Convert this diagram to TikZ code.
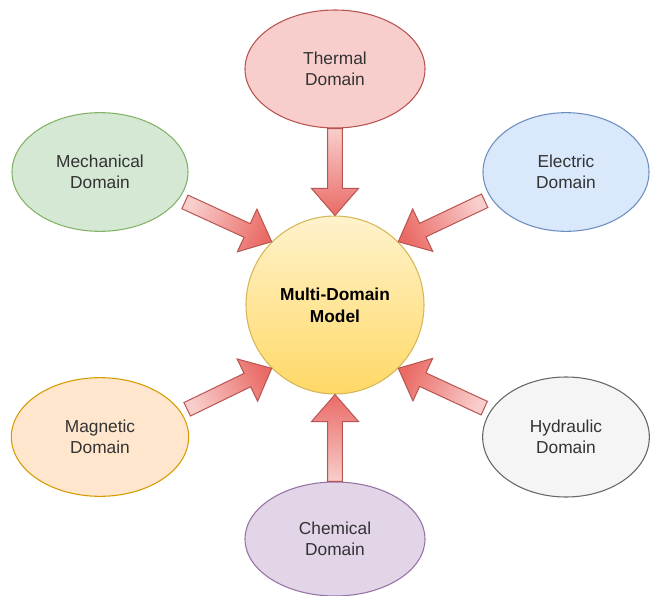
\documentclass[tikz,border=0pt]{standalone}
\usepackage{fontspec}
\setmainfont{Liberation Sans}
\usetikzlibrary{calc,shapes.geometric}

\definecolor{labelgray}{HTML}{333333}
\definecolor{thermfill}{HTML}{F8CECC}
\definecolor{thermline}{HTML}{B85450}
\definecolor{mechfill}{HTML}{D5E8D4}
\definecolor{mechline}{HTML}{82B366}
\definecolor{elecfill}{HTML}{DAE8FC}
\definecolor{elecline}{HTML}{6C8EBF}
\definecolor{magfill}{HTML}{FFE6CC}
\definecolor{magline}{HTML}{D79B00}
\definecolor{hydfill}{HTML}{F5F5F5}
\definecolor{hydline}{HTML}{666666}
\definecolor{chemfill}{HTML}{E1D5E7}
\definecolor{chemline}{HTML}{9673A6}
\definecolor{hubtop}{HTML}{FFF2CC}
\definecolor{hubbottom}{HTML}{FFD966}
\definecolor{hubline}{HTML}{D6B656}
\definecolor{flowlight}{HTML}{F8CECC}
\definecolor{flowdark}{HTML}{EA6B66}
\definecolor{flowline}{HTML}{B85450}

% block arrow from #1 to #2, tail held back by #3
\newcommand{\blockarrow}[3]{%
  \coordinate (ba-b) at (#2);
  \coordinate (ba-a) at ($(#1)!#3!(ba-b)$);
  \coordinate (ba-h) at ($(ba-b)!20.25pt!(ba-a)$);
  \pgfmathanglebetweenpoints{\pgfpointanchor{ba-a}{center}}{\pgfpointanchor{ba-b}{center}}%
  \pgfmathsetmacro{\shadeangle}{\pgfmathresult+90}%
  \draw[flow, shading angle=\shadeangle]
    ($(ba-a)!5.6pt!90:(ba-b)$) -- ($(ba-h)!5.6pt!-90:(ba-a)$)
    -- ($(ba-h)!17.6pt!-90:(ba-a)$) -- (ba-b)
    -- ($(ba-h)!17.6pt!90:(ba-a)$) -- ($(ba-h)!5.6pt!90:(ba-a)$)
    -- ($(ba-a)!5.6pt!-90:(ba-b)$) -- cycle;
}

\begin{document}
\begin{tikzpicture}[x=0.75pt, y=-0.75pt,
  domainbox/.style={ellipse, draw, line width=0.8pt, inner sep=0pt, align=center,
    text=labelgray, font=\fontsize{13}{16}\selectfont},
  hub/.style={circle, draw=hubline, line width=0.8pt, top color=hubtop, bottom color=hubbottom,
    minimum size=133.5pt, inner sep=0pt, align=center, font=\bfseries\fontsize{13}{16.5}\selectfont},
  flow/.style={draw=flowline, line width=0.75pt, line join=miter, top color=flowlight, bottom color=flowdark}]
  \useasboundingbox (0,0) rectangle (651,596);

  % Central model
  \node[hub] (model) at (335,305) {Multi-Domain\\Model};

  % Domains around it
  \node[domainbox, fill=thermfill, draw=thermline, minimum width=135pt, minimum height=88.5pt] (therm) at (335,69) {Thermal\\Domain};
  \node[domainbox, fill=mechfill, draw=mechline, minimum width=132pt, minimum height=89pt] (mech) at (100,172) {Mechanical\\Domain};
  \node[domainbox, fill=elecfill, draw=elecline, minimum width=124.5pt, minimum height=89pt] (elec) at (566,172) {Electric\\Domain};
  \node[domainbox, fill=magfill, draw=magline, minimum width=133pt, minimum height=89pt] (mag) at (100,437) {Magnetic\\Domain};
  \node[domainbox, fill=hydfill, draw=hydline, minimum width=125pt, minimum height=90pt] (hyd) at (566,437) {Hydraulic\\Domain};
  \node[domainbox, fill=chemfill, draw=chemline, minimum width=135pt, minimum height=85.5pt] (chem) at (335,539) {Chemical\\Domain};

  % Arrows into the model
  \foreach \from/\to/\gap in {therm.south/model.north/0pt, chem.north/model.south/0pt,
      mech.-19/model.135/5pt, elec.199/model.45/5pt,
      mag.17/model.-135/5pt, hyd.161/model.-45/5pt}
    \blockarrow{\from}{\to}{\gap};
\end{tikzpicture}
\end{document}
